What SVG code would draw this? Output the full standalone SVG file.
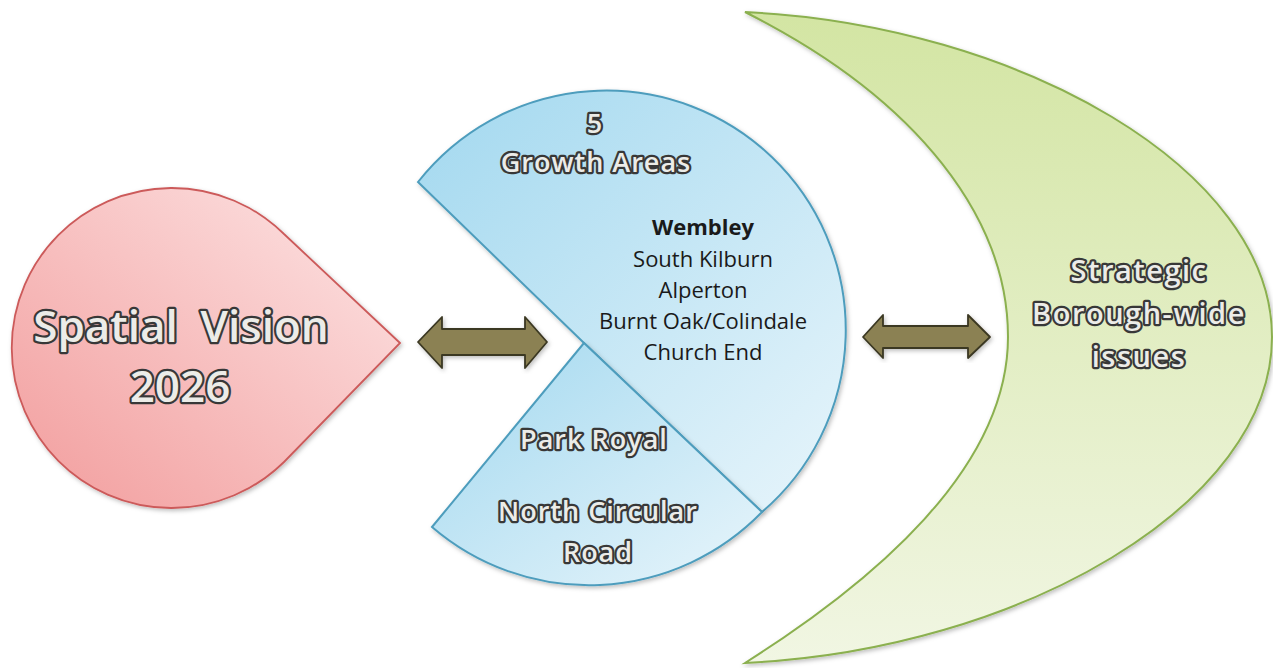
<svg xmlns="http://www.w3.org/2000/svg" width="1273" height="668" viewBox="0 0 1273 668">
  <defs>
    <linearGradient id="gRed" x1="1" y1="0" x2="0" y2="1">
      <stop offset="0" stop-color="#fde6e6"/>
      <stop offset="1" stop-color="#f29c9c"/>
    </linearGradient>
    <linearGradient id="gBlue" x1="0" y1="0" x2="1" y2="1">
      <stop offset="0" stop-color="#a2d8ef"/>
      <stop offset="1" stop-color="#e8f5fb"/>
    </linearGradient>
    <linearGradient id="gGreen" x1="0" y1="0" x2="0" y2="1">
      <stop offset="0" stop-color="#d3e5a3"/>
      <stop offset="1" stop-color="#f1f6e3"/>
    </linearGradient>
    <filter id="shadow" x="-10%" y="-10%" width="120%" height="120%">
      <feDropShadow dx="1.5" dy="2" stdDeviation="2" flood-color="#000" flood-opacity="0.25"/>
    </filter>
    <style>
      .wa { font-family: "Open Sans", "Liberation Sans", sans-serif; font-weight: 600; fill: #ecece8; stroke: #383838; stroke-width: 4.5; paint-order: stroke; stroke-linejoin: round; text-anchor: middle; }
      .pie { font-size: 27px; letter-spacing: 1px; }
      .moon { font-size: 29px; letter-spacing: 1.5px; }
      .plain { font-family: "Open Sans", "Liberation Sans", sans-serif; font-size: 22px; fill: #1a1a1a; text-anchor: middle; }
      .arrow { fill: #8b8152; stroke: #3a3722; stroke-width: 1.8; stroke-linejoin: round; filter: url(#shadow); }
    </style>
  </defs>
  <rect width="1273" height="668" fill="#ffffff"/>

  <g id="spatial-vision">
    <path d="M400,343 L284,234 A160,160 0 1 0 284,462 Z" fill="url(#gRed)" stroke="#cc5a5a" stroke-width="1.8" filter="url(#shadow)"/>
    <text class="wa" x="181" y="342" font-size="44">Spatial&#160; Vision</text>
    <text class="wa" x="180" y="402" font-size="44">2026</text>
  </g>

  <g id="growth-areas">
    <path d="M418,182 L584,343 L762,512 A239.5,239.5 0 1 0 418,182 Z" fill="url(#gBlue)" stroke="#4e9dbd" stroke-width="2" filter="url(#shadow)"/>
    <path d="M584,343 L432,527 A241,241 0 0 0 762,512 Z" fill="url(#gBlue)" stroke="#4e9dbd" stroke-width="2" filter="url(#shadow)"/>
    <text class="wa pie" x="595" y="133">5</text>
    <text class="wa pie" x="596" y="172">Growth Areas</text>
    <text class="plain" x="703" y="235" font-weight="bold">Wembley</text>
    <text class="plain" x="703" y="267">South Kilburn</text>
    <text class="plain" x="703" y="298">Alperton</text>
    <text class="plain" x="703" y="329">Burnt Oak/Colindale</text>
    <text class="plain" x="703" y="360">Church End</text>
    <text class="wa pie" x="594" y="449">Park Royal</text>
    <text class="wa pie" x="598" y="521">North Circular</text>
    <text class="wa pie" x="598" y="562">Road</text>
  </g>

  <g id="borough-wide">
    <path d="M745,12 C1020,25 1272,170 1272,337 C1272,504 1020,650 745,663 C900,565 1008,455 1008,337 C1008,220 920,100 745,12 Z" fill="url(#gGreen)" stroke="#8bb04f" stroke-width="2" filter="url(#shadow)"/>
    <text class="wa moon" x="1139" y="281">Strategic</text>
    <text class="wa moon" x="1139" y="324">Borough-wide</text>
    <text class="wa moon" x="1139" y="367">issues</text>
  </g>

  <g id="connectors">
    <path class="arrow" d="M418,342 L442,317 L442,329 L525,329 L525,317 L547,342 L525,368 L525,355 L442,355 L442,368 Z"/>
    <path class="arrow" d="M863,337 L883,315 L883,326 L968,326 L968,315 L990,337 L968,358 L968,348 L883,348 L883,358 Z"/>
  </g>
</svg>
